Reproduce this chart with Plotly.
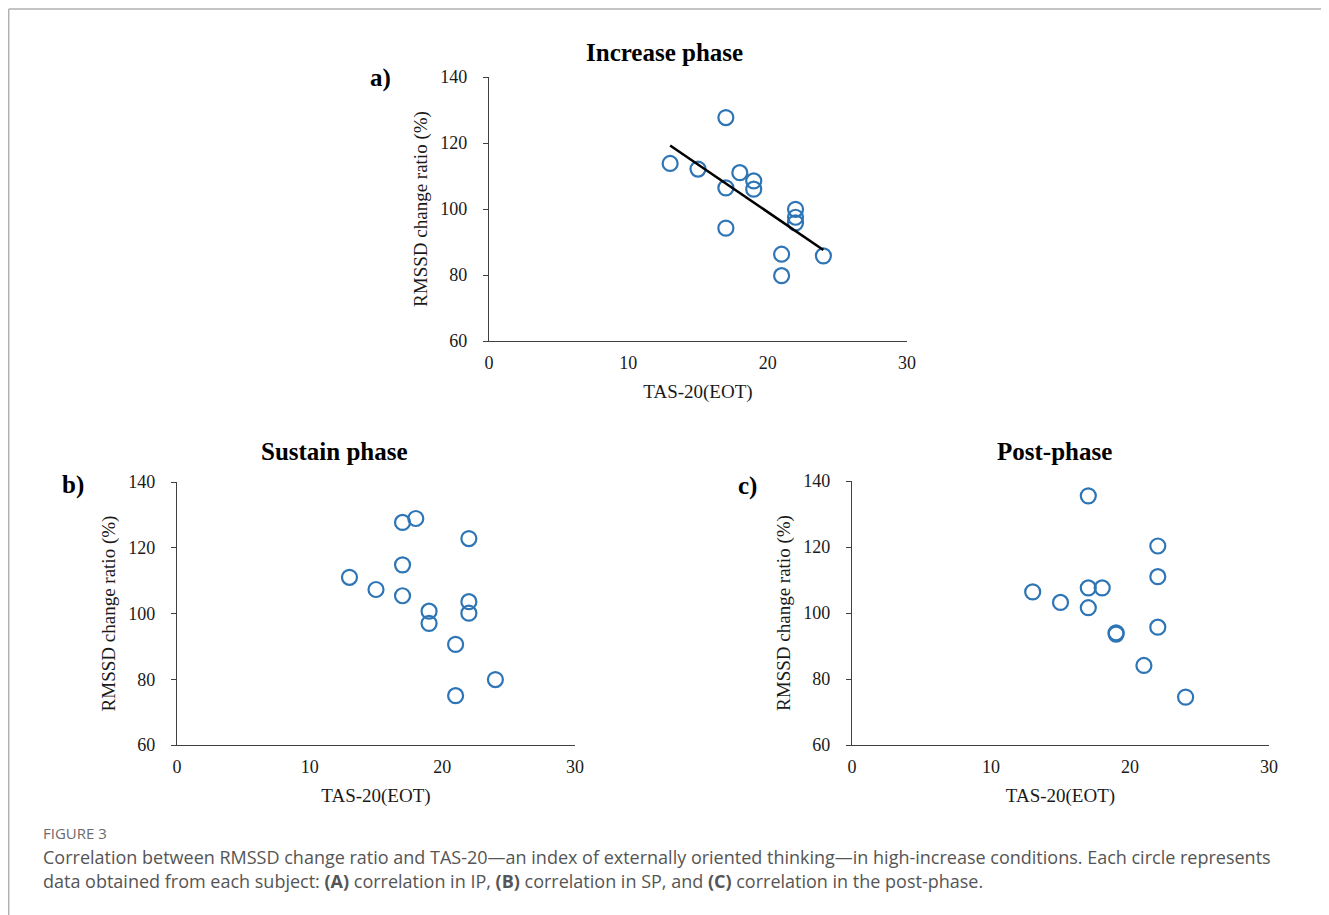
import numpy as np
import plotly.graph_objects as go

# ---- data ----
tas_a = [13, 15, 17, 17, 17, 18, 19, 19, 21, 21, 22, 22, 22, 24]
rmssd_a = [113.8, 112.1, 127.7, 106.4, 94.2, 111.0, 108.5, 106.0, 86.3, 79.8, 99.9, 97.5, 95.8, 85.8]

tas_b = [13, 15, 17, 17, 17, 18, 19, 19, 21, 21, 22, 22, 22, 24]
rmssd_b = [111.0, 107.3, 127.7, 114.8, 105.4, 128.9, 100.7, 97.0, 90.6, 75.0, 122.8, 103.6, 100.1, 79.9]

tas_c = [13, 15, 17, 17, 17, 18, 19, 19, 21, 22, 22, 22, 24]
rmssd_c = [106.4, 103.2, 135.5, 107.6, 101.6, 107.6, 94.0, 93.6, 84.1, 120.3, 111.0, 95.7, 74.5]

titles = ["Increase phase", "Sustain phase", "Post-phase"]
panel_labels = ["a)", "b)", "c)"]
x_ticks = [0, 10, 20, 30]
y_ticks = [60, 80, 100, 120, 140]
x_title = "TAS-20(EOT)"
y_title = "RMSSD change ratio (%)"
caption_head = "FIGURE 3"
caption_lines = [
    "Correlation between RMSSD change ratio and TAS-20\u2014an index of externally oriented thinking\u2014in high-increase conditions. Each circle represents",
    "data obtained from each subject: <b>(A)</b> correlation in IP, <b>(B)</b> correlation in SP, and <b>(C)</b> correlation in the post-phase.",
]

# the page body has an 8px margin, so the figure starts at (8, 8) in the window
OFF = 8
W, H = 1329 - OFF, 915 - OFF
BLUE = "#2E75B6"
AXC = "#404040"
SERIF = "Liberation Serif, Times New Roman, serif"

def px(x):
    return (x - OFF) / W

def py(y):
    return 1 - (y - OFF) / H

# panel boxes in window pixels: (left, right, top, bottom)
boxes = [(489, 907, 77, 341), (177, 575, 482, 745), (852, 1269, 481, 745)]

fig = go.Figure()
datasets = [(tas_a, rmssd_a), (tas_b, rmssd_b), (tas_c, rmssd_c)]
for i, (xs, ys) in enumerate(datasets):
    sfx = "" if i == 0 else str(i + 1)
    fig.add_trace(go.Scatter(
        x=xs, y=ys, mode="markers",
        marker=dict(symbol="circle-open", size=15, color=BLUE, line=dict(width=2.2, color=BLUE)),
        xaxis="x" + sfx, yaxis="y" + sfx, showlegend=False, hoverinfo="x+y",
    ))

# linear trend for panel a
k, b0 = np.polyfit(tas_a, rmssd_a, 1)
xl = np.array([min(tas_a), max(tas_a)])
fig.add_trace(go.Scatter(x=xl, y=k * xl + b0, mode="lines",
                         line=dict(color="black", width=2.5),
                         xaxis="x", yaxis="y", showlegend=False, hoverinfo="skip"))

layout = dict(
    width=W, height=H, autosize=False,
    margin=dict(l=0, r=0, t=0, b=0, autoexpand=False),
    paper_bgcolor="white", plot_bgcolor="white",
    font=dict(family=SERIF, color="#1a1a1a"),
)

annotations = []
for i, (l, r, t, btm) in enumerate(boxes):
    sfx = "" if i == 0 else str(i + 1)
    layout["xaxis" + sfx] = dict(
        domain=[px(l), px(r)], anchor="y" + sfx, range=[0, 30], automargin=False,
        tickvals=x_ticks, ticks="", showgrid=False, zeroline=False,
        showline=True, linecolor=AXC, linewidth=1.3,
        tickfont=dict(family=SERIF, size=18, color="#1a1a1a"),
        ticklabelstandoff=5,
        title=dict(text=x_title, font=dict(family=SERIF, size=19, color="#1a1a1a"), standoff=12),
    )
    layout["yaxis" + sfx] = dict(
        domain=[py(btm), py(t)], anchor="x" + sfx, range=[60, 140], automargin=False,
        tickvals=y_ticks, ticks="outside", ticklen=5, tickcolor=AXC, tickwidth=1.3,
        showgrid=False, zeroline=False,
        showline=True, linecolor=AXC, linewidth=1.3,
        tickfont=dict(family=SERIF, size=18, color="#1a1a1a"),
        ticklabelstandoff=12,
        title=dict(text=y_title, font=dict(family=SERIF, size=19, color="#1a1a1a"), standoff=7),
    )

title_pos = [(664, 52), (334, 452), (1054, 451)]
label_pos = [(380, 78), (73, 485), (747, 486)]
for i in range(3):
    annotations.append(dict(text="<b>%s</b>" % titles[i], x=px(title_pos[i][0]), y=py(title_pos[i][1]),
                            xref="paper", yref="paper", showarrow=False, xanchor="center", yanchor="middle",
                            font=dict(family=SERIF, size=25, color="black")))
    annotations.append(dict(text="<b>%s</b>" % panel_labels[i], x=px(label_pos[i][0]), y=py(label_pos[i][1]),
                            xref="paper", yref="paper", showarrow=False, xanchor="center", yanchor="middle",
                            font=dict(family=SERIF, size=25, color="black")))

CAP = "Open Sans, Lato, sans-serif"
annotations.append(dict(text=caption_head, x=px(41), y=py(833), xref="paper", yref="paper",
                        showarrow=False, xanchor="left", yanchor="middle",
                        font=dict(family=CAP, size=15, color="#6b6b6b")))
for j, line in enumerate(caption_lines):
    annotations.append(dict(text=line, x=px(41), y=py(857 + 24 * j), xref="paper", yref="paper",
                            showarrow=False, xanchor="left", yanchor="middle",
                            font=dict(family=CAP, size=18, color="#555555")))
layout["annotations"] = annotations

# figure frame (left and top edges)
layout["shapes"] = [
    dict(type="line", xref="paper", yref="paper", x0=px(8.7), x1=px(8.7), y0=0, y1=py(9),
         line=dict(color="#b0b0b0", width=1.5)),
    dict(type="line", xref="paper", yref="paper", x0=px(8.7), x1=1, y0=py(9), y1=py(9),
         line=dict(color="#b0b0b0", width=1.5)),
]

fig.update_layout(**layout)
fig.write_html("out.html")
